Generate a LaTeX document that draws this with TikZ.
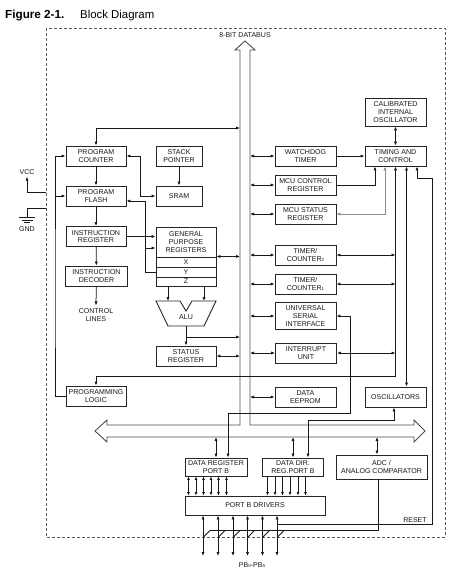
\documentclass[tikz,border=0pt]{standalone}
\usepackage{fontspec}
\setmainfont{Liberation Sans}
\usetikzlibrary{arrows.meta}
\begin{document}
\begin{tikzpicture}[x=1pt,y=-1pt,
  >={Latex[length=4pt,width=3.2pt]},
  box/.style={draw=black!85, line width=0.9pt, fill=white, align=center, inner sep=0pt, text=black!90, font=\fontsize{7.05}{7.7}\selectfont},
  wh/.style 2 args={minimum width=#1pt, minimum height=#2pt},
  conn/.style={line width=0.75pt, draw=black!90},
  lbl/.style={align=center, inner sep=0pt, text=black!90, font=\fontsize{7.05}{7.7}\selectfont},
  bus/.style={line width=0.9pt, draw=black!70},
]
\useasboundingbox (0,0) rectangle (455,571);

% title
\node[anchor=base west, inner sep=0pt, font=\bfseries\fontsize{11.7}{12}\selectfont] (fig) at (5,18) {Figure 2-1.};
\node[anchor=base west, inner sep=0pt, font=\fontsize{11.4}{12}\selectfont] (bd) at (80,18) {Block Diagram};

% dashed border
\draw[black!65, line width=0.7pt, dash pattern=on 3pt off 2pt] (46,28) rectangle (445,537);

% data bus
\draw[bus] (107,425) -- (240,425) -- (240,50) -- (235,50) -- (245,41) -- (255,50) -- (250,50) -- (250,425)
  -- (414,425) -- (414,420) -- (425,431) -- (414,442) -- (414,437) -- (107,437) -- (107,442) -- (95,431) -- (107,420) -- cycle;
\node[lbl] (dbl) at (245,35) {8-BIT DATABUS};
\coordinate (busL) at (240,0);
\coordinate (busR) at (250,0);
\coordinate (busB) at (0,437);

% left column
\node[box, wh={60}{20}] (pc) at (96,156) {PROGRAM\\COUNTER};
\node[box, wh={60}{20}] (pf) at (96,196) {PROGRAM\\FLASH};
\node[box, wh={60}{20}] (ir) at (96,236.5) {INSTRUCTION\\REGISTER};
\node[box, wh={62}{20}] (id) at (96.5,276) {INSTRUCTION\\DECODER};
\node[lbl] (cl) at (96,315) {CONTROL\\LINES};
\node[box, wh={60}{20}] (pl) at (96,396) {PROGRAMMING\\LOGIC};

% middle column
\node[box, wh={46}{20}] (sp) at (179,156) {STACK\\POINTER};
\node[box, wh={46}{20}] (sram) at (179,196) {SRAM};
\node[box, wh={60}{30}] (gpr) at (186,242) {GENERAL\\PURPOSE\\REGISTERS};
\node[box, wh={60}{10}] (gx) at (186,262) {X};
\node[box, wh={60}{10}] (gy) at (186,272) {Y};
\node[box, wh={60}{9}] (gz) at (186,281.5) {Z};
\draw[draw=black!85, line width=0.9pt, fill=white] (156,301) -- (180,301) -- (186,311) -- (192,301) -- (216,301) -- (204,326) -- (168,326) -- cycle;
\node[lbl] (alu) at (186,317) {ALU};
\coordinate (alul) at (168,301);
\coordinate (alur) at (204,301);
\coordinate (alub) at (186,326);
\node[box, wh={60}{20}] (sr) at (186,356) {STATUS\\REGISTER};

% right column
\node[box, wh={61}{28}] (cio) at (395.5,112) {CALIBRATED\\INTERNAL\\OSCILLATOR};
\node[box, wh={61}{20}] (tc) at (395.5,156) {TIMING AND\\CONTROL};
\node[box, wh={61}{20}] (wdt) at (305.5,156) {WATCHDOG\\TIMER};
\node[box, wh={61}{20}] (mcr) at (305.5,185) {MCU CONTROL\\REGISTER};
\node[box, wh={61}{20}] (msr) at (305.5,214) {MCU STATUS\\REGISTER};
\node[box, wh={61}{20}] (tc0) at (305.5,255) {TIMER/\\COUNTER{\fontsize{4.5}{5}\selectfont 0}};
\node[box, wh={61}{20}] (tc1) at (305.5,284) {TIMER/\\COUNTER{\fontsize{4.5}{5}\selectfont 1}};
\node[box, wh={61}{27}] (usi) at (305.5,316) {UNIVERSAL\\SERIAL\\INTERFACE};
\node[box, wh={61}{20}] (iu) at (306,353) {INTERRUPT\\UNIT};
\node[box, wh={61}{20}] (de) at (305.5,397) {DATA\\EEPROM};
\node[box, wh={61}{20}] (osc) at (395.5,397) {OSCILLATORS};

% bottom
\node[box, wh={62}{18}] (drb) at (216,467) {DATA REGISTER\\PORT B};
\node[box, wh={61}{18}] (ddr) at (293,467) {DATA DIR.\\REG.PORT B};
\node[box, wh={91}{24}] (adc) at (381.5,467) {ADC /\\ANALOG COMPARATOR};
\node[box, wh={140}{19}] (pbd) at (255,505.5) {PORT B DRIVERS};
\node[lbl] (pbl) at (252,565) {PB{\fontsize{4.5}{5}\selectfont 0}-PB{\fontsize{4.5}{5}\selectfont 5}};
\node[lbl] (rst) at (415,520) {RESET};

% left side supply
\node[lbl] (vcc) at (27,172) {VCC};
\node[lbl] (gnd) at (27,229) {GND};
\coordinate (vccb) at (46,192);
\coordinate (gndb) at (46,208);
\coordinate (gp) at (27,217.5);
\draw[conn,->,shorten >=2pt] (vccb) -| (vcc.south);
\draw[conn] (gndb) -| (gp);
\draw[conn] (19,217.5) -- (35,217.5) (21.5,220) -- (32.5,220) (24,222.5) -- (30,222.5);

% left column connectors
\coordinate (dbtop) at (240,128);
\draw[conn,<->] (pc.north) |- (dbtop);
\draw[conn,->] (pc) -- (pf);
\draw[conn,->] (pf) -- (ir);
\draw[conn,->] (ir) -- (id);
\draw[conn,->] (id) -- ([yshift=3pt]cl.north);
\draw[conn,<->] (pc.east) -- ++(14,0) |- (sram.west);
\draw[conn,->] (sp) -- (sram);
\draw[conn,->] (gy.west) -- ++(-10,0) |- ([yshift=-5pt]pf.east);
\draw[conn,->] (ir.east) -- (ir.east -| gpr.west);
\coordinate (j1) at (146,248);
\draw[conn,->] (j1) -- (j1 -| gpr.west);
\coordinate (gprb) at ([yshift=1pt]gpr.south east);
\draw[conn,<->] (gprb) -- (gprb -| busL);
\draw[conn,->] (gz.south -| alul) -- (alul);
\draw[conn,->] (gz.south -| alur) -- (alur);
\draw[conn,->] (alub) -- (sr.north);
\coordinate (j2) at (186,337);
\draw[conn,->] (j2) -- (j2 -| busL);
\draw[conn,<->] (sr.east) -- (sr.east -| busL);
\coordinate (vl) at (55,300);
\draw[conn,->] (pl.west) -| (vl) |- (pc.west);
\draw[conn,->] (pf.west -| vl) -- (pf.west);

% right column connectors
\coordinate (t1) at ([xshift=-20.5pt]tc.south);
\coordinate (t2) at ([xshift=-10.5pt]tc.south);
\coordinate (t3) at (tc.south);
\coordinate (t4) at ([xshift=11pt]tc.south);
\coordinate (t5) at ([xshift=21.5pt]tc.south);
\draw[conn,<->] (cio) -- (tc);
\draw[conn,->] (wdt) -- (tc);
\foreach \n in {wdt,mcr,msr,tc0,tc1,usi,iu,de} \draw[conn,<->] (\n.west) -- (\n.west -| busR);
\draw[conn,->] (mcr.east) -| (t1);
\draw[conn,<->,draw=black!45] (msr.east) -| (t2);
\coordinate (j4) at (395.5,376);
\draw[conn,<->] (pl.north) |- (j4) -- (t3);
\foreach \n in {tc0,tc1,iu} \draw[conn,<->] (\n.east) -- (\n.east -| t3);
\draw[conn,<->] (t4) -- (t4 |- osc.north);
\coordinate (rs) at (277,524);
\coordinate (rc) at (432,178);
\draw[conn,->] (rs) -| (rc) -| (t5);

% bus to bottom blocks
\coordinate (j5) at (350,413);
\coordinate (drbin) at ([xshift=12pt]drb.north);
\draw[conn,<->] (usi.east) -| (j5) -| (drbin);
\draw[conn,<->] (drb.north) -- (drb.north |- busB);
\draw[conn,<->] (ddr.north) -- (ddr.north |- busB);
\coordinate (oin) at ([xshift=-1.5pt]osc.south);
\coordinate (j6) at (308,420);
\draw[conn,<->] (oin) |- (j6) -- (j6 |- ddr.north);
\coordinate (ain) at ([xshift=-4.5pt]adc.north);
\draw[conn,<->] (ain) -- (ain |- busB);
\coordinate (aout) at ([xshift=-3pt]adc.south);
\coordinate (aend) at (210,530.5);
\draw[conn] (aout) |- (aend);

% port lines
\foreach \x in {188.5,196,203.5,211,218.5,226.5}
  \draw[conn,<->,>={Latex[length=3.5pt,width=3pt]}] (drb.south -| \x,0) -- (pbd.north -| \x,0);
\foreach \x in {267.5,275,282.5,290,298,305.5}
  \draw[conn,->,>={Latex[length=3.5pt,width=3pt]}] (ddr.south -| \x,0) -- (pbd.north -| \x,0);
\foreach \x in {203,218,233,247.5,262.5,277} {
  \draw[conn,<->] (pbd.south -| \x,0) -- (\x,556);
  \draw[conn] (\x,537.5) -- ({\x+7},530.5);
}
\end{tikzpicture}
\end{document}
